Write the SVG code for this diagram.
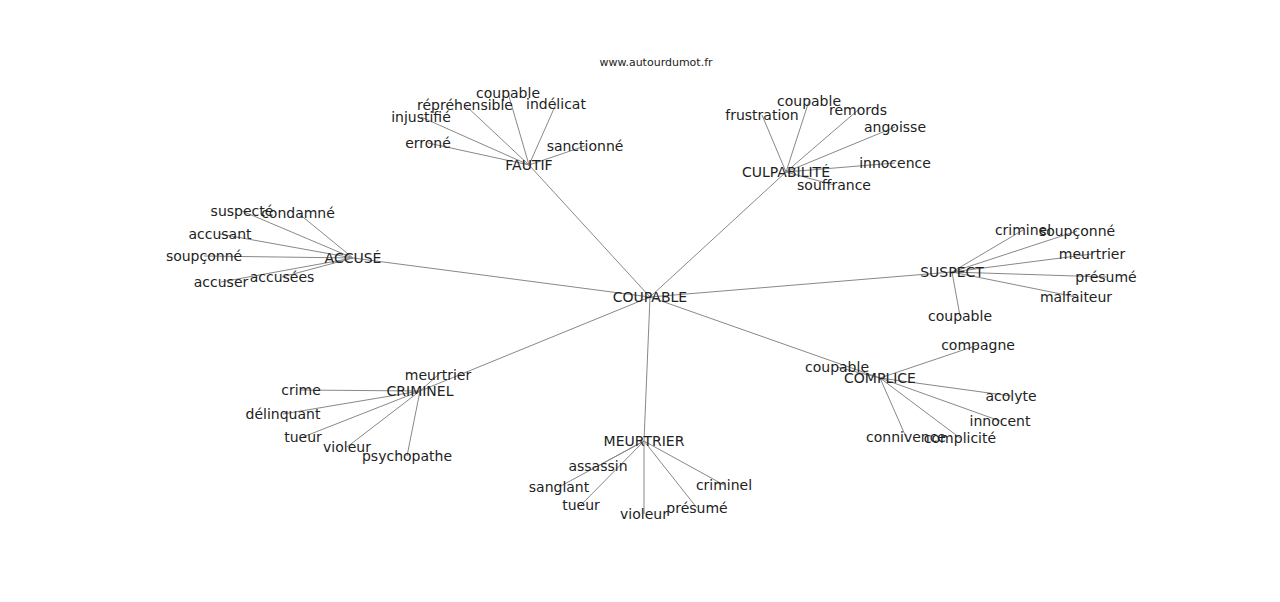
<svg xmlns="http://www.w3.org/2000/svg" width="1280" height="602" viewBox="0 0 1280 602">
<style>
text{font-family:"DejaVu Sans",sans-serif;font-size:14px;fill:#222;text-anchor:middle;dominant-baseline:central}
.t{font-size:11px}
line{stroke:#888;stroke-width:1}
</style>
<rect width="1280" height="602" fill="#fff"/>
<text class="t" x="656" y="62">www.autourdumot.fr</text>
<g id="connectors">
<line x1="650" y1="297" x2="529" y2="165"/><line x1="650" y1="297" x2="786" y2="172"/><line x1="650" y1="297" x2="353" y2="258"/><line x1="650" y1="297" x2="952" y2="272"/><line x1="650" y1="297" x2="880" y2="378"/><line x1="650" y1="297" x2="420" y2="391"/><line x1="650" y1="297" x2="644" y2="441"/>
<line x1="529" y1="165" x2="508" y2="93"/><line x1="529" y1="165" x2="465" y2="105"/><line x1="529" y1="165" x2="556" y2="104"/><line x1="529" y1="165" x2="421" y2="117"/><line x1="529" y1="165" x2="428" y2="143"/><line x1="529" y1="165" x2="585" y2="146"/>
<line x1="786" y1="172" x2="762" y2="115"/><line x1="786" y1="172" x2="809" y2="101"/><line x1="786" y1="172" x2="858" y2="110"/><line x1="786" y1="172" x2="895" y2="127"/><line x1="786" y1="172" x2="895" y2="163"/><line x1="786" y1="172" x2="834" y2="185"/>
<line x1="353" y1="258" x2="242" y2="211"/><line x1="353" y1="258" x2="298" y2="213"/><line x1="353" y1="258" x2="220" y2="234"/><line x1="353" y1="258" x2="204" y2="256"/><line x1="353" y1="258" x2="221" y2="282"/><line x1="353" y1="258" x2="282" y2="277"/>
<line x1="952" y1="272" x2="1023" y2="230"/><line x1="952" y1="272" x2="1077" y2="231"/><line x1="952" y1="272" x2="1092" y2="254"/><line x1="952" y1="272" x2="1106" y2="277"/><line x1="952" y1="272" x2="1076" y2="297"/><line x1="952" y1="272" x2="960" y2="316"/>
<line x1="880" y1="378" x2="837" y2="367"/><line x1="880" y1="378" x2="978" y2="345"/><line x1="880" y1="378" x2="1011" y2="396"/><line x1="880" y1="378" x2="1000" y2="421"/><line x1="880" y1="378" x2="906" y2="437"/><line x1="880" y1="378" x2="960" y2="438"/>
<line x1="420" y1="391" x2="438" y2="375"/><line x1="420" y1="391" x2="301" y2="390"/><line x1="420" y1="391" x2="283" y2="414"/><line x1="420" y1="391" x2="303" y2="437"/><line x1="420" y1="391" x2="347" y2="447"/><line x1="420" y1="391" x2="407" y2="456"/>
<line x1="644" y1="441" x2="598" y2="466"/><line x1="644" y1="441" x2="559" y2="487"/><line x1="644" y1="441" x2="581" y2="505"/><line x1="644" y1="441" x2="644" y2="514"/><line x1="644" y1="441" x2="697" y2="508"/><line x1="644" y1="441" x2="724" y2="485"/>
</g>
<g id="coupable"><text x="650" y="297">COUPABLE</text></g>
<g id="fautif"><text x="529" y="165">FAUTIF</text><text x="508" y="93">coupable</text><text x="465" y="105">répréhensible</text><text x="556" y="104">indélicat</text><text x="421" y="117">injustifié</text><text x="428" y="143">erroné</text><text x="585" y="146">sanctionné</text></g>
<g id="culpabilite"><text x="786" y="172">CULPABILITÉ</text><text x="762" y="115">frustration</text><text x="809" y="101">coupable</text><text x="858" y="110">remords</text><text x="895" y="127">angoisse</text><text x="895" y="163">innocence</text><text x="834" y="185">souffrance</text></g>
<g id="accuse"><text x="353" y="258">ACCUSÉ</text><text x="242" y="211">suspecté</text><text x="298" y="213">condamné</text><text x="220" y="234">accusant</text><text x="204" y="256">soupçonné</text><text x="221" y="282">accuser</text><text x="282" y="277">accusées</text></g>
<g id="suspect"><text x="952" y="272">SUSPECT</text><text x="1023" y="230">criminel</text><text x="1077" y="231">soupçonné</text><text x="1092" y="254">meurtrier</text><text x="1106" y="277">présumé</text><text x="1076" y="297">malfaiteur</text><text x="960" y="316">coupable</text></g>
<g id="complice"><text x="880" y="378">COMPLICE</text><text x="837" y="367">coupable</text><text x="978" y="345">compagne</text><text x="1011" y="396">acolyte</text><text x="1000" y="421">innocent</text><text x="906" y="437">connivence</text><text x="960" y="438">complicité</text></g>
<g id="criminel"><text x="420" y="391">CRIMINEL</text><text x="438" y="375">meurtrier</text><text x="301" y="390">crime</text><text x="283" y="414">délinquant</text><text x="303" y="437">tueur</text><text x="347" y="447">violeur</text><text x="407" y="456">psychopathe</text></g>
<g id="meurtrier"><text x="644" y="441">MEURTRIER</text><text x="598" y="466">assassin</text><text x="559" y="487">sanglant</text><text x="581" y="505">tueur</text><text x="644" y="514">violeur</text><text x="697" y="508">présumé</text><text x="724" y="485">criminel</text></g>
</svg>
